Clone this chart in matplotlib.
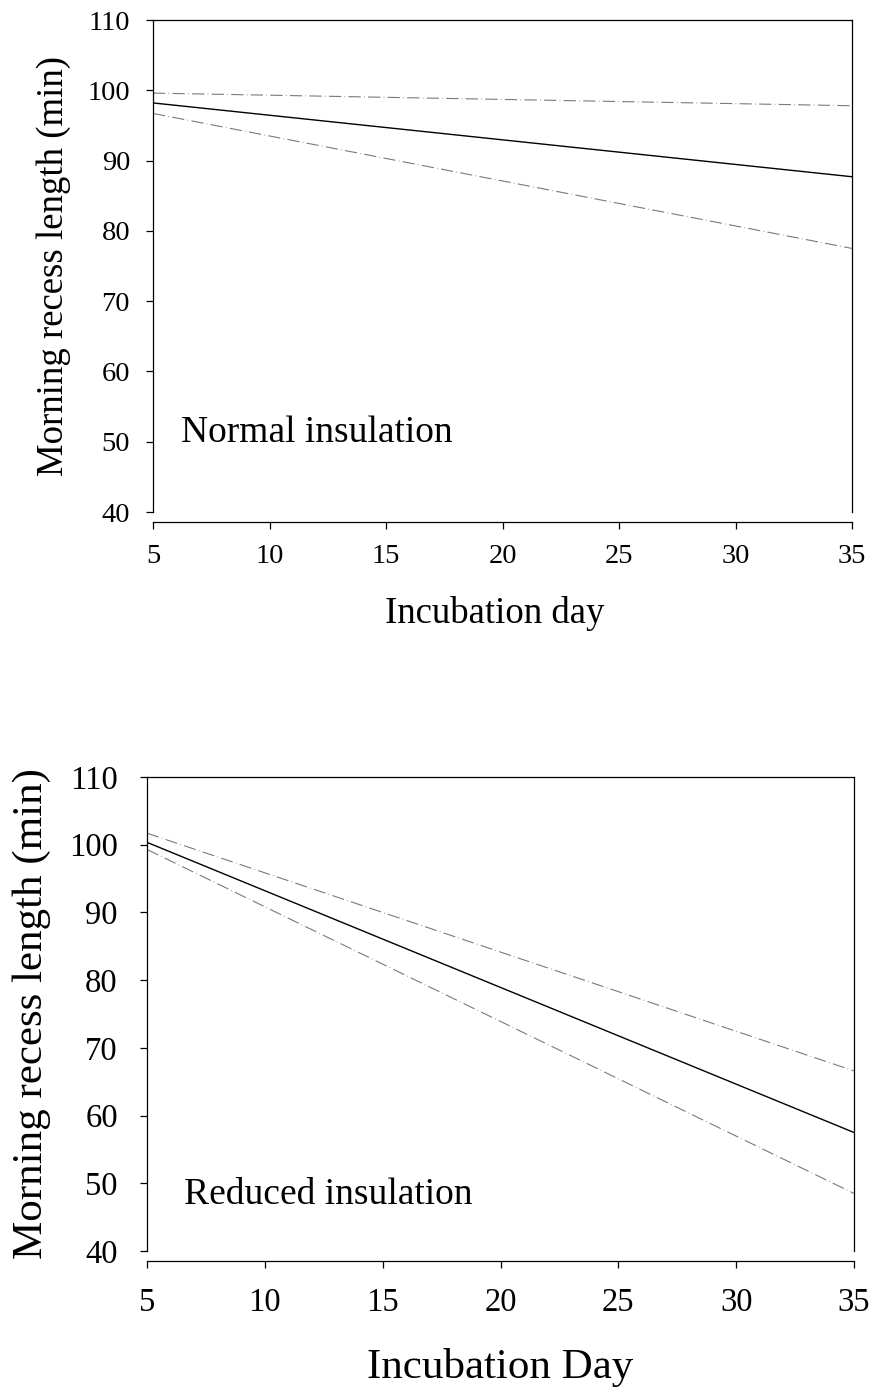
import matplotlib
matplotlib.use("Agg")
import matplotlib.pyplot as plt

plt.rcParams['font.family'] = ['Liberation Serif', 'DejaVu Serif']

# incubation day range of the fitted lines
days = [5, 35]

# normal insulation: fit and confidence limits
normal_fit = [98.2, 87.7]
normal_upper = [99.6, 97.8]
normal_lower = [96.7, 77.5]

# reduced insulation: fit and confidence limits
reduced_fit = [100.35, 57.5]
reduced_upper = [101.7, 66.6]
reduced_lower = [99.3, 48.5]

x_ticks = [5, 10, 15, 20, 25, 30, 35]
y_ticks = [40, 50, 60, 70, 80, 90, 100, 110]

W, H = 871, 1390
fig = plt.figure(figsize=(W / 100, H / 100), dpi=100)

ci_style = dict(color='#7a7a7a', lw=0.8, linestyle=(0, (11, 3, 0.6, 3)))


def px_axes(left, top, right, bottom):
    return fig.add_axes([left / W, 1 - bottom / H, (right - left) / W, (bottom - top) / H])


def style_panel(ax, fit, upper, lower, tick_size, label_size, ypad, xpad,
                xlabel, ylab_x, xlab_pos, note, note_xy, note_size):
    ax.plot(days, upper, **ci_style)
    ax.plot(days, lower, **ci_style)
    ax.plot(days, fit, color='black', lw=1.0)
    ax.set_xlim(5, 35)
    ax.set_ylim(40, 110)
    ax.set_xticks(x_ticks)
    ax.set_yticks(y_ticks)
    for s in ax.spines.values():
        s.set_linewidth(0.9)
    ax.spines['bottom'].set_position(('outward', 7))
    ax.tick_params(axis='both', direction='out', length=5, width=0.9,
                   labelsize=tick_size, top=False, right=False)
    ax.tick_params(axis='y', pad=ypad)
    ax.tick_params(axis='x', pad=xpad)
    ax.set_ylabel('Morning recess length (min)', fontsize=label_size, va='center')
    ax.yaxis.set_label_coords(ylab_x, 0.5)
    ax.set_xlabel(xlabel, fontsize=label_size, va='center')
    ax.xaxis.set_label_coords(*xlab_pos)
    ax.text(note_xy[0], note_xy[1], note, fontsize=note_size, va='center', ha='left')


ax1 = px_axes(153, 20, 852, 512)
style_panel(ax1, normal_fit, normal_upper, normal_lower, 20.5, 26.5, 11.5, 11,
            'Incubation day', -0.1416, (0.4886, -0.2053),
            'Normal insulation', (6.2, 51.3), 27)

ax2 = px_axes(147, 777, 854, 1251)
style_panel(ax2, reduced_fit, reduced_upper, reduced_lower, 23.5, 31, 16, 14,
            'Incubation Day', -0.1627, (0.5, -0.2468),
            'Reduced insulation', (6.57, 48.3), 27)

fig.savefig('out.png', dpi=100)
